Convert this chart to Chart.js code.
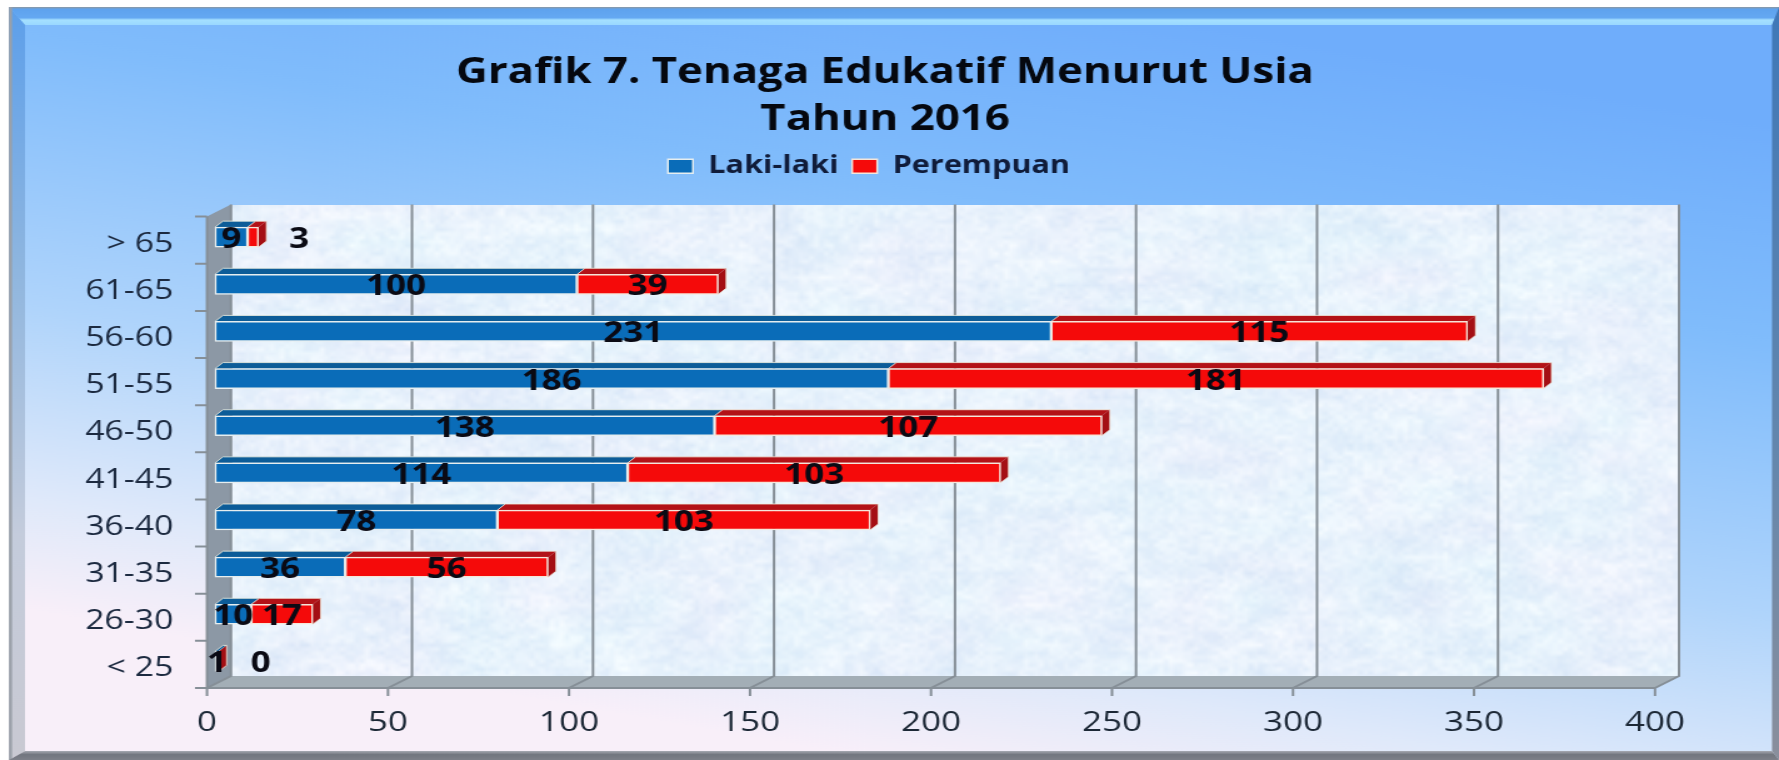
<!DOCTYPE html>
<html>
<head>
<meta charset="utf-8">
<title>Grafik 7</title>
<style>
html,body{margin:0;padding:0;background:#fff;width:1779px;height:760px;overflow:hidden}
canvas{position:absolute;left:0;top:0;display:block;transform-origin:0 0;transform:scaleX(1.25018);filter:blur(.6px)}
</style>
<script src="https://cdn.jsdelivr.net/npm/chart.js@4/dist/chart.umd.min.js"></script>
</head>
<body>
<canvas id="c" width="1423" height="760"></canvas>
<script>
const titleLines = ['Grafik 7. Tenaga Edukatif Menurut Usia', 'Tahun 2016'];
const categories = ['> 65','61-65','56-60','51-55','46-50','41-45','36-40','31-35','26-30','< 25'];
const lakiLaki  = [9,100,231,186,138,114,78,36,10,1];
const perempuan = [3,39,115,181,107,103,103,56,17,0];
const xTicks = [0,50,100,150,200,250,300,350,400];
const seriesNames = ['Laki-laki','Perempuan'];

const S = 1779/1423;               // horizontal stretch of the picture
const FONT = '"Open Sans", sans-serif';
const X = v => v/S;
// depth of the 3D box and of the bars (in page pixels)
const WALL = {dx:X(24), dy:12};
const BAR  = {dx:X(8), dy:6, shiftX:X(8), shiftY:-3};
// labels that the reference moved away from their bar: [dataset, index, page-px shift]
const labelNudge = [[1,0,46],[1,9,42]];

function poly(ctx, pts, fill){
  ctx.beginPath();
  pts.forEach((p,i)=> i?ctx.lineTo(p[0],p[1]):ctx.moveTo(p[0],p[1]));
  ctx.closePath();
  ctx.fillStyle = fill; ctx.fill();
}

// soft marbled paper texture of the back wall (decoration only)
function wallTexture(w,h){
  const cv = document.createElement('canvas');
  cv.width = Math.ceil(w/2); cv.height = Math.ceil(h/2);
  const c = cv.getContext('2d'), im = c.createImageData(cv.width,cv.height);
  const hash = (i,j)=>{const s=Math.sin(i*127.1+j*311.7)*43758.5453;return s-Math.floor(s);};
  const smooth = (x,y)=>{
    const i=Math.floor(x),j=Math.floor(y),u=x-i,v=y-j;
    const a=hash(i,j),b=hash(i+1,j),d=hash(i,j+1),e=hash(i+1,j+1);
    return (a*(1-u)+b*u)*(1-v)+(d*(1-u)+e*u)*v;
  };
  for(let y=0;y<cv.height;y++)for(let x=0;x<cv.width;x++){
    const n = .3*smooth(x/16,y/10)+.35*smooth(x/6,y/4)+.35*smooth(x/2,y/2);
    const m = smooth(x/24+40,y/18+7);
    const t = n-.5;
    const q = (y*cv.width+x)*4;
    im.data[q]  = 232+t*38+(m-.5)*6;
    im.data[q+1]= 242+t*26-(m-.5)*3;
    im.data[q+2]= 252+t*10;
    im.data[q+3]= 255;
  }
  c.putImageData(im,0,0);
  return cv;
}
let texture = null;

const backdrop = {
  id:'backdrop',
  beforeLayout(chart){
    const l = chart.legend, fit = l.fit;
    if(!l._wrapped){
      l._wrapped = true;
      l.fit = function(){ fit.call(this); this.height = 73.5; };
    }
  },
  afterLayout(chart){
    const t = chart.titleBlock, l = chart.legend;
    t.left = 0; t.right = 2*X(885);
    l.left = 0; l.right = 2*X(869);
  },
  beforeDraw(chart){
    const {ctx} = chart, W = chart.width, H = chart.height;
    const x0 = X(9), y0 = 7, x1 = W, y1 = H;
    ctx.save();
    const g = ctx.createLinearGradient(X(1090),0,X(880),H);
    g.addColorStop(0,'#6fadfb');
    g.addColorStop(.28,'#80bcfb');
    g.addColorStop(.62,'#afd4fb');
    g.addColorStop(.86,'#dfe9fa');
    g.addColorStop(1,'#f8eff9');
    ctx.fillStyle = g; ctx.fillRect(x0,y0,x1-x0,y1-y0);
    // bevel: top
    const bt = 25, bl = X(25), br = X(1772), bb = 751;
    const top = ctx.createLinearGradient(0,y0,0,bt);
    top.addColorStop(0,'#8e979f'); top.addColorStop(.12,'#5fa3ee');
    top.addColorStop(.6,'#64a8f2'); top.addColorStop(.72,'#a5e0ff'); top.addColorStop(1,'#9ad8ff');
    poly(ctx,[[x0,y0],[x1,y0],[br,bt],[bl,bt]],top);
    // bevel: left
    const left = ctx.createLinearGradient(0,y0,0,y1);
    left.addColorStop(0,'#5d9fea'); left.addColorStop(.35,'#8fb6df');
    left.addColorStop(.7,'#c4ccdc'); left.addColorStop(1,'#c9c9d2');
    poly(ctx,[[x0,y0],[bl,bt],[bl,bb],[x0,y1]],left);
    ctx.fillStyle='#9aa0a8'; ctx.fillRect(x0,y0,X(3),y1-y0);
    // bevel: right
    const right = ctx.createLinearGradient(0,y0,0,y1);
    right.addColorStop(0,'#3f78b8'); right.addColorStop(.6,'#6487ad'); right.addColorStop(1,'#8a8f9c');
    poly(ctx,[[x1,y0],[x1,y1],[br,bb],[br,bt]],right);
    // bevel: bottom
    const bot = ctx.createLinearGradient(0,bb,0,y1);
    bot.addColorStop(0,'#a6a9b2'); bot.addColorStop(.4,'#72767f'); bot.addColorStop(1,'#7d8089');
    poly(ctx,[[x0,y1],[bl,bb],[br,bb],[x1,y1]],bot);
    ctx.restore();
  },
  beforeDatasetsDraw(chart){
    const {ctx, chartArea:a, scales:{x,y}} = chart;
    const d = WALL;
    ctx.save();
    // back wall
    const ww = a.right-a.left, wh = a.bottom-a.top;
    if(!texture) texture = wallTexture(ww,wh);
    ctx.imageSmoothingEnabled = true;
    ctx.drawImage(texture,a.left+d.dx,a.top-d.dy,ww,wh);
    // side wall and floor
    poly(ctx,[[a.left,a.top],[a.left+d.dx,a.top-d.dy],[a.left+d.dx,a.bottom-d.dy],[a.left,a.bottom]],'#8c98a5');
    poly(ctx,[[a.left,a.bottom],[a.left+d.dx,a.bottom-d.dy],[a.right+d.dx,a.bottom-d.dy],[a.right,a.bottom]],'#a3aeb6');
    ctx.strokeStyle='#868f97'; ctx.lineWidth=2;
    ctx.lineCap='butt';
    // grid on wall & floor, ticks under the floor
    xTicks.forEach(v=>{
      const p = x.getPixelForValue(v);
      ctx.beginPath();
      ctx.moveTo(p,a.bottom+8); ctx.lineTo(p,a.bottom);
      ctx.lineTo(p+d.dx,a.bottom-d.dy); ctx.lineTo(p+d.dx,a.top-d.dy);
      ctx.lineWidth = 2; ctx.stroke();
    });
    // front axis lines and category ticks
    ctx.beginPath();
    ctx.moveTo(a.left,a.top); ctx.lineTo(a.left,a.bottom); ctx.lineTo(a.right,a.bottom);
    const step = (a.bottom-a.top)/categories.length;
    categories.forEach((c,i)=>{
      const cy = y.getPixelForValue(i);
      ctx.moveTo(a.left-X(12),cy-step/2); ctx.lineTo(a.left,cy-step/2);
      if(i===categories.length-1){ctx.moveTo(a.left-X(12),cy+step/2); ctx.lineTo(a.left,cy+step/2);}
    });
    ctx.stroke();
    ctx.restore();

    // shift the bars into the middle of the depth and draw their 3D faces
    ctx.save();
    ctx.translate(BAR.shiftX,BAR.shiftY);
    const shades = [{top:'#0c5c98'},{top:'#b31217',end:'#a40f14'}];
    [0,1].forEach(di=>{
      chart.getDatasetMeta(di).data.forEach(b=>{
        const p = b.getProps(['x','y','base','height']);
        const t = p.y-p.height/2, bm = p.y+p.height/2;
        poly(ctx,[[p.base,t],[p.x,t],[p.x+BAR.dx,t-BAR.dy],[p.base+BAR.dx,t-BAR.dy]],shades[di].top);
        ctx.strokeStyle='rgba(240,240,225,.8)'; ctx.lineWidth=1;
        ctx.beginPath(); ctx.moveTo(p.base,t); ctx.lineTo(p.base+BAR.dx,t-BAR.dy); ctx.lineTo(p.x+BAR.dx,t-BAR.dy); ctx.stroke();
        if(di===1){
          poly(ctx,[[p.x,t],[p.x+BAR.dx,t-BAR.dy],[p.x+BAR.dx,bm-BAR.dy],[p.x,bm]],shades[1].end);
          ctx.beginPath(); ctx.moveTo(p.x+BAR.dx,t-BAR.dy); ctx.lineTo(p.x+BAR.dx,bm-BAR.dy); ctx.lineTo(p.x,bm); ctx.stroke();
        }
      });
    });
  },
  afterDatasetsDraw(chart){
    const {ctx} = chart;
    ctx.font = 'bold 28px '+FONT;
    ctx.fillStyle = '#0a0a14';
    ctx.textAlign='center'; ctx.textBaseline='middle';
    [lakiLaki,perempuan].forEach((vals,di)=>{
      chart.getDatasetMeta(di).data.forEach((b,i)=>{
        const p = b.getProps(['x','y','base']);
        const n = labelNudge.find(m=>m[0]===di&&m[1]===i);
        const dx = n ? X(n[2]) : 0;
        ctx.fillText(String(vals[i]),(p.x+p.base)/2+dx,p.y+3);
      });
    });
    ctx.restore();
  }
};

new Chart(document.getElementById('c'),{
  type:'bar',
  data:{
    labels:categories,
    datasets:[
      {label:seriesNames[0],data:lakiLaki,backgroundColor:'#0a6cb8',borderColor:'#e6eef0',borderWidth:1.5,borderSkipped:false,stack:'a',barThickness:20,clip:false},
      {label:seriesNames[1],data:perempuan,backgroundColor:'#f50a0a',borderColor:'#f6e6da',borderWidth:1.5,borderSkipped:false,stack:'a',barThickness:20,clip:false}
    ]
  },
  options:{
    indexAxis:'y',
    responsive:false,
    animation:false,
    devicePixelRatio:1,
    layout:{padding:{left:0,right:X(124),top:0,bottom:0}},
    plugins:{
      title:{display:true,text:titleLines,color:'#05080f',
        font:{family:FONT,size:35,weight:'bold',lineHeight:1.33},
        padding:{top:50,bottom:0}},
      legend:{position:'top',
        labels:{color:'#101c3a',font:{family:FONT,size:24.5,weight:'bold'},boxWidth:X(25),boxHeight:14,padding:11}},
      tooltip:{enabled:false}
    },
    scales:{
      x:{type:'linear',stacked:true,min:0,max:400,position:'bottom',
        afterFit(s){s.height=72;},
        afterBuildTicks(s){s.ticks=xTicks.map(v=>({value:v}));},
        grid:{display:false},border:{display:false},
        ticks:{color:'#1c2836',font:{family:FONT,size:28},padding:10,maxRotation:0}},
      y:{type:'category',stacked:true,
        afterFit(s){s.width=207/S;},
        grid:{display:false},border:{display:false},
        ticks:{color:'#1c2a40',font:{family:FONT,size:27},padding:19,labelOffset:4}}
    }
  },
  plugins:[backdrop]
});
</script>
</body>
</html>
